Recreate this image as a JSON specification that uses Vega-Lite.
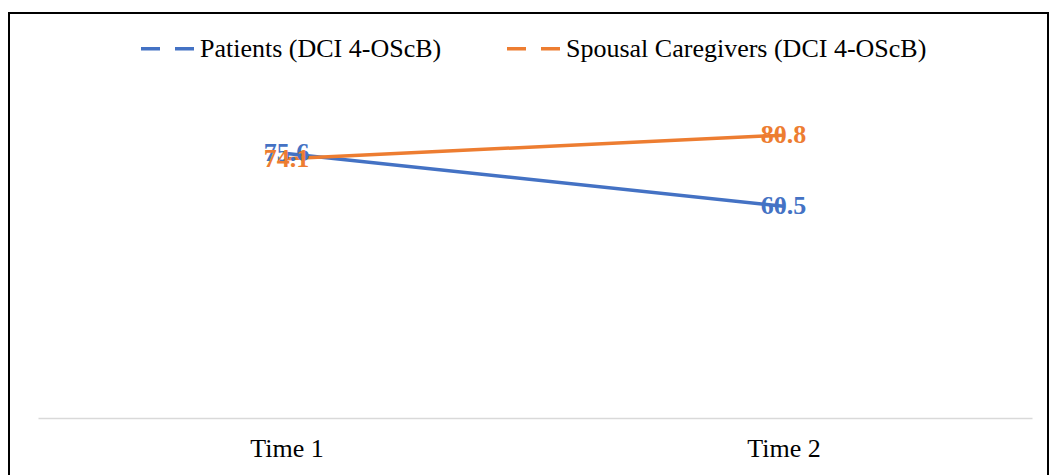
{
  "$schema": "https://vega.github.io/schema/vega-lite/v6.json",
  "width": 1039,
  "height": 462,
  "autosize": {"type": "none"},
  "padding": {"left": 9, "top": 13, "right": 2, "bottom": 0},
  "background": "white",
  "config": {
    "font": "Liberation Serif",
    "view": {"stroke": "black", "strokeWidth": 2, "strokeDash": [1501, 1039, 462]}
  },
  "data": {
    "values": [
      {"Time": "Time 1", "Series": "Patients (DCI 4-OScB)", "Score": 75.6},
      {"Time": "Time 2", "Series": "Patients (DCI 4-OScB)", "Score": 60.5},
      {"Time": "Time 1", "Series": "Spousal Caregivers (DCI 4-OScB)", "Score": 74.1},
      {"Time": "Time 2", "Series": "Spousal Caregivers (DCI 4-OScB)", "Score": 80.8}
    ]
  },
  "encoding": {
    "x": {
      "field": "Time",
      "type": "nominal",
      "scale": {"type": "point", "range": [29, 1023], "padding": 0.5},
      "axis": {
        "title": null,
        "orient": "bottom",
        "offset": -57,
        "domainColor": "#d9d9d9",
        "domainWidth": 1.5,
        "ticks": false,
        "tickSize": 0,
        "grid": false,
        "labelAngle": 0,
        "labelFontSize": 26,
        "labelColor": "#000000",
        "labelPadding": 17
      }
    },
    "y": {
      "field": "Score",
      "type": "quantitative",
      "scale": {"domain": [0, 100], "range": [405, 55]},
      "axis": null
    },
    "color": {
      "field": "Series",
      "type": "nominal",
      "scale": {
        "domain": ["Patients (DCI 4-OScB)", "Spousal Caregivers (DCI 4-OScB)"],
        "range": ["#4472C4", "#ED7D31"]
      },
      "legend": {
        "title": null,
        "orient": "none",
        "legendX": 130,
        "legendY": 7,
        "direction": "horizontal",
        "symbolType": "stroke",
        "symbolSize": 2809,
        "symbolStrokeWidth": 3.5,
        "symbolDash": [19, 15],
        "labelFontSize": 26,
        "labelColor": "#000000",
        "labelLimit": 1000,
        "columnPadding": 58,
        "labelOffset": 4
      }
    }
  },
  "layer": [
    {"mark": {"type": "line", "strokeWidth": 3.5}},
    {
      "mark": {"type": "text", "fontWeight": "bold", "fontSize": 26, "align": "center", "baseline": "middle"},
      "encoding": {"text": {"field": "Score", "type": "quantitative", "format": ".1f"}}
    }
  ]
}
